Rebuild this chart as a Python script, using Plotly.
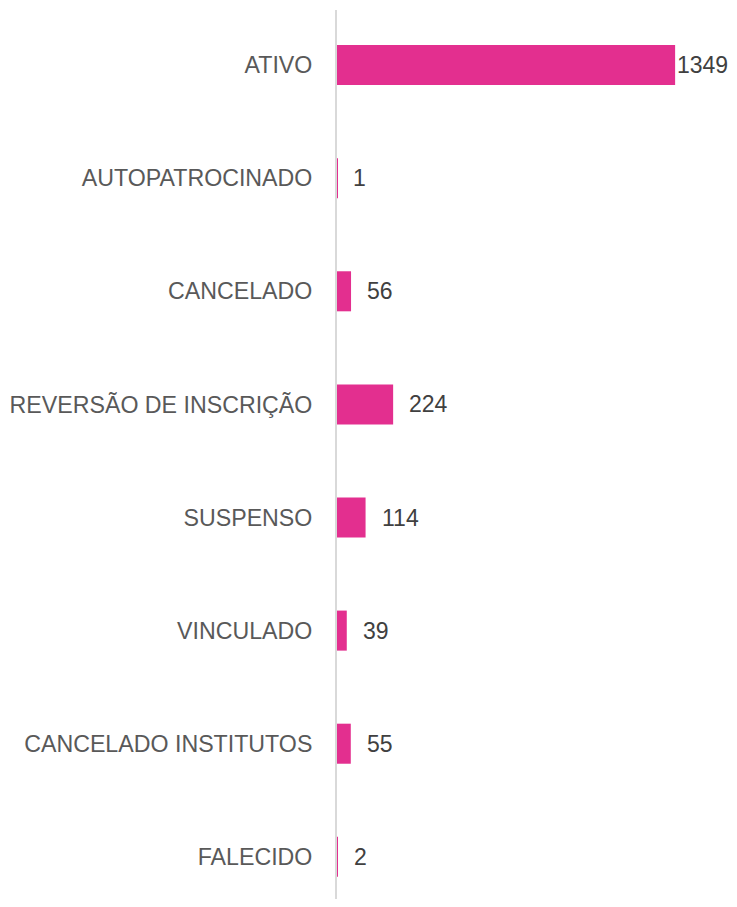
import plotly.graph_objects as go

categories = ["ATIVO", "AUTOPATROCINADO", "CANCELADO", "REVERSÃO DE INSCRIÇÃO",
              "SUSPENSO", "VINCULADO", "CANCELADO INSTITUTOS", "FALECIDO"]
values = [1349, 1, 56, 224, 114, 39, 55, 2]

label_shift = [0, 14, 14, 14, 14, 14, 14, 14]

fig = go.Figure()
fig.add_trace(go.Bar(
    x=values, y=list(range(len(categories))), orientation="h",
    marker=dict(color="#E32F8F", line=dict(width=0)),
    width=0.354, hoverinfo="skip",
))

for i, (v, s) in enumerate(zip(values, label_shift)):
    fig.add_annotation(x=v, y=i, text=str(v), showarrow=False,
                       xanchor="left", yanchor="middle", xshift=s,
                       font=dict(family="Liberation Sans, Arial", size=23, color="#404040"))

fig.update_layout(
    width=721, height=891,
    margin=dict(l=329, r=2, t=2, b=0, autoexpand=False),
    paper_bgcolor="white", plot_bgcolor="white",
    showlegend=False,
    font=dict(family="Liberation Sans, Arial", size=23.2, color="#595959"),
    xaxis=dict(range=[0, 1556], visible=False, fixedrange=True, automargin=False),
    yaxis=dict(range=[7.373, -0.487], tickmode="array",
               tickvals=list(range(len(categories))), ticktext=categories,
               showline=True, linecolor="#D9D9D9", linewidth=2, showgrid=False,
               ticks="", ticklabelstandoff=18, zeroline=False, automargin=False,
               fixedrange=True,
               tickfont=dict(family="Liberation Sans, Arial", size=23.2, color="#595959")),
)

fig.write_html("out.html")
